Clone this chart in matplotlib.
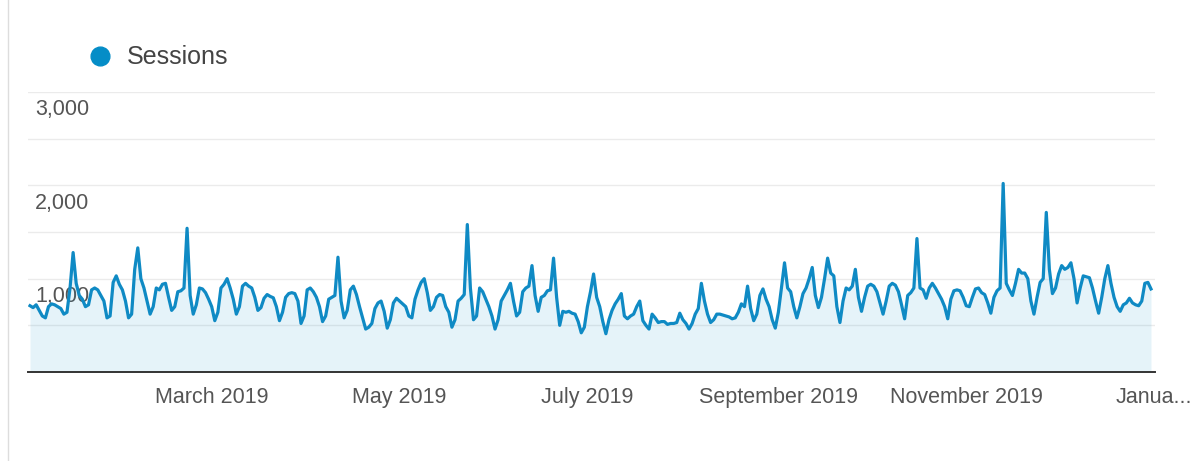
import pandas as pd
import matplotlib
matplotlib.use("Agg")
import matplotlib.pyplot as plt
import matplotlib.dates as mdates
from matplotlib.lines import Line2D

# ---------------- data ----------------
series_name = "Sessions"
start_date = "2019-01-01"

jan = [710, 690, 720, 660, 600, 580,
       700, 730, 720, 700, 680, 620, 640,
       900, 1280, 950, 820, 780, 700, 720,
       880, 900, 880, 820, 760, 580, 600,
       960, 1030, 940, 880]
feb = [760, 580, 620,
       1100, 1330, 1000, 900, 760, 620, 700,
       900, 880, 940, 950, 800, 660, 700,
       860, 870, 900, 1540, 820, 620, 720,
       900, 890, 850, 780]
mar = [700, 550, 640,
       900, 940, 1000, 900, 780, 620, 700,
       920, 950, 920, 900, 800, 660, 690,
       790, 830, 810, 795, 700, 550, 640,
       800, 840, 850, 840, 760, 520, 600]
apr = [880, 900, 860, 800, 700, 540, 600,
       780, 800, 820, 1230, 760, 580, 660,
       880, 920, 830, 700, 580, 460, 480,
       520, 680, 740, 760, 650, 470, 560,
       740, 790]
may = [760, 730, 700, 600, 580,
       780, 880, 960, 1000, 850, 660, 700,
       800, 830, 820, 700, 640, 480, 560,
       760, 790, 830, 1580, 900, 560, 600,
       900, 860, 780, 700, 600]
jun = [460, 560,
       760, 820, 880, 950, 760, 600, 640,
       860, 900, 920, 1140, 820, 650, 800,
       820, 870, 880, 1220, 800, 500, 650,
       640, 650, 630, 620, 540, 420, 480]
jul = [700, 860, 1050, 800, 700, 540, 410,
       560, 660, 730, 780, 840, 600, 570,
       600, 620, 700, 760, 550, 500, 460,
       620, 580, 530, 540, 540, 510, 520,
       520, 530, 630]
aug = [560, 520, 460, 520,
       620, 680, 950, 760, 620, 530, 560,
       620, 620, 610, 600, 590, 570, 580,
       640, 730, 700, 920, 680, 550, 620,
       820, 890, 780, 700, 560, 470]
sep = [640,
       900, 1170, 900, 860, 700, 580, 700,
       840, 900, 1000, 1120, 820, 690, 800,
       1000, 1220, 1060, 1030, 700, 530, 760,
       900, 880, 920, 1100, 800, 650, 800,
       920]
oct_ = [940, 920, 860, 740, 620, 760,
        920, 950, 930, 860, 720, 570, 820,
        850, 900, 1430, 900, 880, 790, 900,
        950, 900, 840, 780, 700, 570, 780,
        870, 880, 870, 800]
nov = [710, 700, 800,
       890, 900, 850, 830, 740, 630, 800,
       870, 900, 2020, 950, 880, 820, 950,
       1100, 1060, 1060, 1000, 760, 620, 800,
       960, 1000, 1710, 1100, 840, 900]
dec = [1050,
       1140, 1100, 1120, 1170, 1000, 740, 900,
       1030, 1020, 1010, 900, 760, 630, 800,
       1000, 1140, 950, 800, 700, 650, 720,
       740, 790, 740, 720, 710, 760, 950,
       960, 890]

sessions = jan + feb + mar + apr + may + jun + jul + aug + sep + oct_ + nov + dec
dates = pd.date_range(start_date, periods=len(sessions), freq="D")

y_ticks = [1000, 2000, 3000]
y_tick_labels = ["1,000", "2,000", "3,000"]
x_tick_dates = ["2019-03-01", "2019-05-01", "2019-07-01",
                "2019-09-01", "2019-11-01", "2020-01-01"]
x_tick_labels = ["March 2019", "May 2019", "July 2019",
                 "September 2019", "November 2019", "Janua..."]

# ---------------- figure ----------------
plt.rcParams['font.family'] = ['Liberation Sans', 'DejaVu Sans']
W, H = 1197, 461
fig = plt.figure(figsize=(W / 100, H / 100), dpi=100)
fig.patch.set_facecolor("white")

ax = fig.add_axes([28 / W, 1 - 372 / H, (1155 - 28) / W, (372 - 92) / H])
line_color = "#0F8AC4"

x = mdates.date2num(dates)
ax.fill_between(x, 0, sessions, color="#058DC7", alpha=0.1, lw=0, zorder=2)
ax.plot(x, sessions, color=line_color, lw=2.3, zorder=3, solid_joinstyle="round")

ax.set_ylim(0, 3000)
ax.set_xlim(x[0] - 0.65, mdates.date2num(pd.Timestamp("2020-01-01")) + 0.3)

for g in range(500, 3001, 500):
    ax.axhline(g, color="#EBEBEB", lw=1, zorder=0)

ax.set_yticks([])
for v, lbl in zip(y_ticks, y_tick_labels):
    ax.annotate(lbl, xy=(0, v), xycoords=("axes fraction", "data"),
                xytext=(7, -18), textcoords="offset pixels",
                ha="left", va="center", fontsize=15.5, color="#555555",
                zorder=1, annotation_clip=False)

ax.set_xticks(mdates.date2num(pd.to_datetime(x_tick_dates)))
ax.set_xticklabels(x_tick_labels)
ax.tick_params(axis="x", length=0, pad=11, labelsize=15.5, labelcolor="#555555")

for s in ["top", "right", "left"]:
    ax.spines[s].set_visible(False)
ax.spines["bottom"].set_color("#333333")
ax.spines["bottom"].set_linewidth(1.4)
ax.spines["bottom"].set_zorder(4)
ax.set_facecolor("none")

# legend
fig.add_artist(Line2D([100 / W], [1 - 56 / H], marker="o", markersize=13.5,
                      color="#058DC7", markeredgecolor="#058DC7",
                      linestyle="none", transform=fig.transFigure))
fig.text(127 / W, 1 - 57 / H, series_name, ha="left", va="center",
         fontsize=18, color="#444444")

# left panel border
fig.add_artist(Line2D([7.5 / W, 7.5 / W], [0, 1], color="#DDDDDD", lw=1,
                      transform=fig.transFigure))

fig.savefig("out.png", dpi=100)
